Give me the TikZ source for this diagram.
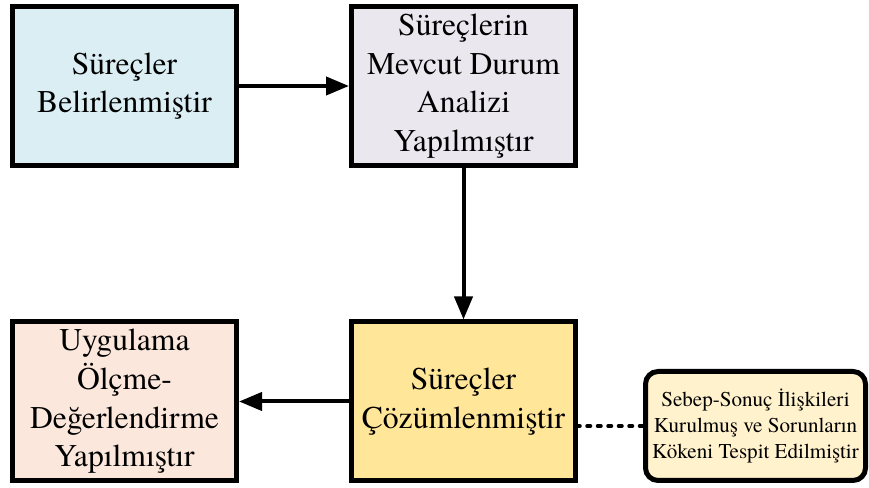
\documentclass[tikz,border=0pt]{standalone}
\usepackage{fontspec}
\setmainfont{texgyretermes}[Extension=.otf,UprightFont=*-regular,BoldFont=*-bold,ItalicFont=*-italic,BoldItalicFont=*-bolditalic]
\usepackage{tikz}
\usetikzlibrary{arrows.meta}
\definecolor{belirfill}{HTML}{DAEEF3}
\definecolor{analizfill}{HTML}{EBE7EF}
\definecolor{cozumfill}{HTML}{FFE699}
\definecolor{olcmefill}{HTML}{FBE7DB}
\definecolor{notefill}{HTML}{FFF2CC}

\begin{document}
\begin{tikzpicture}
[
stage/.style={draw,line width=0.1cm,minimum width=4.48cm,minimum height=3.18cm,
              align=center,inner sep=0pt,font=\rmfamily\fontsize{18}{22}\selectfont,fill=#1},
note/.style={draw,line width=0.1cm,rounded corners=0.25cm,minimum width=4.40cm,
             minimum height=2.18cm,align=center,inner sep=0pt,
             font=\rmfamily\fontsize{12}{14.8}\selectfont,fill=notefill},
flow/.style={line width=0.08cm,-{Triangle[length=0.46cm,width=0.36cm]}},
]
\useasboundingbox (0,0) rectangle (17.38,9.76);

%Place the nodes
\node[stage=belirfill] (bel) at (2.49,8.04) {Süreçler\\Belirlenmiştir};
\node[stage=analizfill] (ana) at (9.27,8.04) {Süreçlerin\\Mevcut Durum\\Analizi\\Yapılmıştır};
\node[stage=cozumfill] (coz) at (9.27,1.73) {Süreçler\\Çözümlenmiştir};
\node[stage=olcmefill] (olc) at (2.49,1.73) {Uygulama\\Ölçme-\\Değerlendirme\\Yapılmıştır};
\node[note] (kok) at (15.11,1.24) {Sebep-Sonuç İlişkileri\\Kurulmuş ve Sorunların\\Kökeni Tespit Edilmiştir};
%Draw the connections
\draw[flow] (bel) to (ana);
\draw[flow] (ana) to (coz);
\draw[flow] (coz) to (olc);
\draw[line width=0.07cm,line cap=round,dash pattern=on 0.07cm off 0.14cm] (kok.west) to (kok.west -| coz.east);
\end{tikzpicture}
\end{document}
